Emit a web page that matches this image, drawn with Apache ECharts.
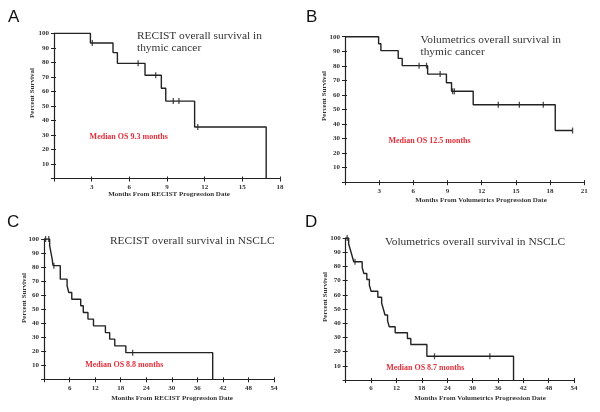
<!DOCTYPE html>
<html>
<head>
<meta charset="utf-8">
<script src="https://cdn.jsdelivr.net/npm/echarts@6/dist/echarts.min.js"></script>
<style>html,body{margin:0;padding:0;background:#fff}#c{width:600px;height:412px}</style>
</head>
<body>
<div id="c"></div>
<script>
// Panel A: RECIST, thymic cancer
const aTimes = [0, 2.9, 4.7, 5.05, 7.25, 8.55, 8.9, 11.2, 16.9];
const aSurv  = [100, 93.3, 86.7, 79.3, 71.1, 62.2, 53.3, 35.5, 0];
const aCensT = [3.05, 6.7, 8.1, 9.5, 9.95, 11.45];
const aCensS = [93.3, 79.3, 71.1, 53.3, 53.3, 35.5];
// Panel B: Volumetrics, thymic cancer
const bTimes = [0, 2.95, 3.15, 4.67, 5.02, 7.25, 8.9, 9.35, 11.25, 18.45, 19.97];
const bSurv  = [100, 95.2, 90.4, 85.1, 80.1, 74.3, 68.3, 62.5, 53.2, 35.5, 35.5];
const bCensT = [6.5, 7.15, 8.35, 9.45, 9.6, 13.45, 15.3, 17.4, 19.97];
const bCensS = [80.1, 80.1, 74.3, 62.5, 62.5, 53.2, 53.2, 53.2, 35.5];
// Panel C: RECIST, NSCLC
const cTimes = [0, 1.3, 1.6, 1.9, 2.1, 3.8, 5.4, 5.8, 6.5, 8.6, 9.2, 10.3, 11.6, 14.4, 15.4, 16.6, 19.2, 39.6];
const cSurv  = [100, 95.2, 90.5, 85.7, 81.0, 71.4, 66.7, 61.9, 57.1, 52.4, 47.6, 42.9, 38.1, 33.3, 28.6, 23.8, 19.0, 0];
const cCensT = [0.35, 1.1, 2.3, 20.8];
const cCensS = [100, 100, 81.0, 19.0];
// Panel D: Volumetrics, NSCLC
const dTimes = [0, 0.7, 1.1, 1.5, 1.9, 3.9, 4.3, 5.0, 5.6, 6.0, 7.6, 8.5, 8.9, 9.3, 9.9, 10.3, 11.7, 14.6, 15.4, 19.2, 39.7];
const dSurv  = [100, 95.8, 91.7, 87.5, 83.3, 79.2, 75.0, 70.8, 66.7, 62.5, 58.3, 54.2, 50.0, 45.8, 41.7, 37.5, 33.3, 29.2, 25.0, 16.7, 0];
const dCensT = [0.35, 2.2, 21.0, 34.1];
const dCensS = [100, 83.3, 16.7, 16.7];

const xMax = [18, 21, 54, 54];
const xStep = [3, 3, 6, 6];
const titles = [
  'RECIST overall survival in\nthymic cancer',
  'Volumetrics overall survival in\nthymic cancer',
  'RECIST overall survival in NSCLC',
  'Volumetrics overall survival in NSCLC'
];
const medians = ['Median OS 9.3 months', 'Median OS 12.5 months', 'Median OS 8.8 months', 'Median OS 8.7 months'];
const xNames = ['Months From RECIST Progression Date', 'Months From Volumetrics Progression Date',
                'Months From RECIST Progression Date', 'Months From Volumetrics Progression Date'];
const yName = 'Percent Survival';
const letters = ['A', 'B', 'C', 'D'];

const SERIF = '"Liberation Serif", "DejaVu Serif", serif';
const grids = [
  {left: 54, top: 33.3, width: 226, height: 145.2},
  {left: 345, top: 36.7, width: 239.3, height: 145.5},
  {left: 44.1, top: 239, width: 229.9, height: 140.3},
  {left: 345.7, top: 238, width: 228.3, height: 142}
];
const times = [aTimes, bTimes, cTimes, dTimes];
const survs = [aSurv, bSurv, cSurv, dSurv];
const censT = [aCensT, bCensT, cCensT, dCensT];
const censS = [aCensS, bCensS, cCensS, dCensS];

const xAxes = [], yAxes = [], series = [];
const labelStyle = {fontFamily: SERIF, fontWeight: 'bold', fontSize: 7, color: '#333'};
for (let i = 0; i < 4; i++) {
  const base = {type: 'value', gridIndex: i, min: 0, max: xMax[i], interval: xStep[i], splitLine: {show: false}};
  xAxes.push(Object.assign({}, base, {
    axisLine: {show: true, lineStyle: {color: '#222', width: 1.2}},
    axisTick: {show: true, length: 3, lineStyle: {color: '#222'}},
    axisLabel: Object.assign({margin: 5, formatter: v => v === 0 ? '' : String(v)}, labelStyle)
  }));
  xAxes.push(Object.assign({}, base, {
    position: 'bottom',
    axisLine: {show: false}, axisLabel: {show: false},
    axisTick: {show: true, inside: true, length: 2, lineStyle: {color: '#222'}}
  }));
  const ybase = {type: 'value', gridIndex: i, min: 0, max: 100, interval: 10, splitLine: {show: false}};
  yAxes.push(Object.assign({}, ybase, {
    axisLine: {show: true, lineStyle: {color: '#222', width: 1.2}},
    axisTick: {show: true, length: 3, lineStyle: {color: '#222'}},
    axisLabel: Object.assign({margin: 5, formatter: v => v === 0 ? '' : String(v)}, labelStyle)
  }));
  yAxes.push(Object.assign({}, ybase, {
    position: 'left',
    axisLine: {show: false}, axisLabel: {show: false},
    axisTick: {show: true, inside: true, length: 2, lineStyle: {color: '#222'}}
  }));
  series.push({
    type: 'line', xAxisIndex: 2 * i, yAxisIndex: 2 * i, step: 'end', symbol: 'none',
    lineStyle: {color: '#222', width: 1.4}, animation: false,
    data: times[i].map((t, k) => [t, survs[i][k]])
  });
  series.push({
    type: 'scatter', xAxisIndex: 2 * i, yAxisIndex: 2 * i, symbol: 'rect', symbolSize: [1.3, 6],
    itemStyle: {color: '#222'}, animation: false,
    data: censT[i].map((t, k) => [t, censS[i][k]])
  });
}

const graphic = [];
const letterPos = [[8, 9], [306, 9], [7, 214], [305, 214]];
const titlePos = [[137, 30.5], [420.5, 34], [110, 235], [385, 236.5]];
const medianPos = [[128.7, 137], [429.5, 141], [124.3, 365.3], [425.3, 367.5]];
const xNamePos = [[169, 194.3], [481, 200], [172, 397.7], [480, 398.3]];
const yNamePos = [[32, 93], [324, 96], [24.3, 298], [325, 297]];
for (let i = 0; i < 4; i++) {
  graphic.push({type: 'text', left: letterPos[i][0], top: letterPos[i][1],
    style: {text: letters[i], font: '17px "Liberation Sans", Arial, sans-serif', fill: '#111'}});
  graphic.push({type: 'text', x: titlePos[i][0], y: titlePos[i][1],
    style: {text: titles[i], font: '11.4px ' + SERIF, fill: '#333', lineHeight: 12, textAlign: 'left', textVerticalAlign: 'top'}});
  graphic.push({type: 'text', x: medianPos[i][0], y: medianPos[i][1],
    style: {text: medians[i], font: 'bold 8px ' + SERIF, fill: '#e0303c', textAlign: 'center', textVerticalAlign: 'middle'}});
  graphic.push({type: 'text', x: xNamePos[i][0], y: xNamePos[i][1],
    style: {text: xNames[i], font: 'bold 7px ' + SERIF, fill: '#333', textAlign: 'center', textVerticalAlign: 'middle'}});
  graphic.push({type: 'text', x: yNamePos[i][0], y: yNamePos[i][1], rotation: Math.PI / 2,
    style: {text: yName, font: 'bold 7px ' + SERIF, fill: '#333', textAlign: 'center', textVerticalAlign: 'middle'}});
}

const chart = echarts.init(document.getElementById('c'), null, {renderer: 'canvas'});
chart.setOption({
  animation: false,
  backgroundColor: '#fff',
  grid: grids,
  xAxis: xAxes,
  yAxis: yAxes,
  series: series,
  graphic: graphic
});
</script>
</body>
</html>
